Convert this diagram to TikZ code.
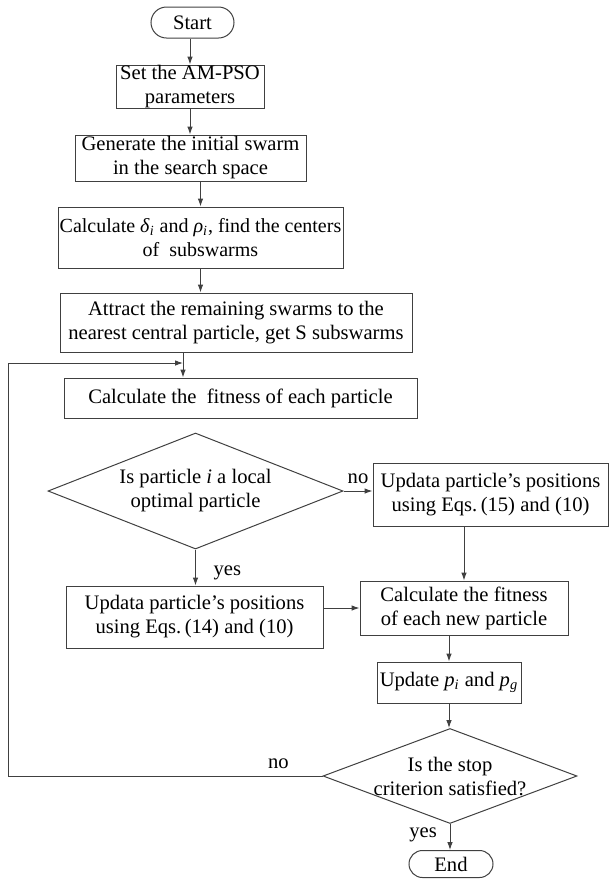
\documentclass[tikz,border=0pt]{standalone}
\usepackage{fontspec}
\setmainfont{Liberation Serif}
\usetikzlibrary{shapes.geometric,shapes.misc,arrows.meta}

\tikzset{
  line/.style={draw=black!75, line width=0.5pt},
  box/.style={line, rectangle, align=center, inner sep=0pt},
  term/.style={line, rounded rectangle, inner sep=0pt},
  decision/.style={line, diamond, align=center, inner sep=-2pt},
  arrow/.style={line, -{Latex[length=4pt,width=2.8pt]}}
}

\begin{document}
\begin{tikzpicture}[x=0.5pt, y=-0.5pt, font=\fontsize{10.3}{12}\selectfont]

    \useasboundingbox (0,0) rectangle (609,880);

    % Main column
    \node[term, minimum width=41.5pt, minimum height=15.5pt] (start) at (192.5,22.5) {Start};
    \node[box, minimum width=74pt, minimum height=21.5pt] (set) at (190,86.5) {Set the AM-PSO\\parameters};
    \node[box, minimum width=115.5pt, minimum height=23pt] (gen) at (190.5,158) {Generate the initial swarm\\in the search space};
    \node[box, minimum width=142.5pt, minimum height=30.5pt, font=\fontsize{10}{12}\selectfont] (calc) at (200.5,237.5)
        {Calculate \textit{δ}\textsubscript{\textit{i}} and \textit{ρ}\textsubscript{\textit{i}}, find the centers\\of~ subswarms};
    \node[box, minimum width=176pt, minimum height=29.5pt] (attract) at (236,322.5)
        {Attract the remaining swarms to the\\nearest central particle, get S subswarms};
    \node[box, minimum width=176.5pt, minimum height=20pt] (fit) at (240.5,398) {Calculate the~ fitness of each particle};

    % Decision on local optimum
    \node[decision, aspect=2.54, minimum width=147.5pt, minimum height=58pt] (dec1) at (195.5,491) {Is particle \textit{i} a local\\optimal particle};
    \node[box, minimum width=117.5pt, minimum height=31.5pt] (upd15) at (490.5,494.5) {Updata particle’s positions\\using Eqs.\,(15) and (10)};
    \node[box, minimum width=128.5pt, minimum height=31pt] (upd14) at (194.5,617) {Updata particle’s positions\\using Eqs.\,(14) and (10)};
    \node[box, minimum width=104pt, minimum height=27pt] (fitnew) at (464,608) {Calculate the fitness\\of each new particle};
    \node[box, minimum width=72pt, minimum height=20.5pt] (updp) at (449,682.5)
        {Update \textit{p}\textsubscript{\textit{i}} and \textit{p}\textsubscript{\textit{g}}};

    % Stop test
    \node[decision, aspect=2.67, minimum width=127pt, minimum height=47.5pt] (dec2) at (450,776) {Is the stop\\criterion satisfied?};
    \node[term, minimum width=42pt, minimum height=13.5pt] (end) at (451,864) {End};

    % Arrows
    \draw[arrow] (start.south -| set.north) -- (set.north);
    \draw[arrow] (set.south) -- (set.south |- gen.north);
    \draw[arrow] (gen.south -| calc.north) -- (calc.north);
    \draw[arrow] (calc.south) -- (calc.south |- attract.north);

    \coordinate (join) at (183,363);
    \coordinate (loopx) at (8,0);
    \draw[line] (attract.south -| join) -- (join);
    \draw[arrow] (join) -- (join |- fit.north);

    \draw[arrow] (dec1.south) -- (dec1.south |- upd14.north) node[pos=0.65, right=5.5pt] {yes};
    \draw[arrow] (dec1.east) -- (dec1.east -| upd15.west) node[midway, above] {no};
    \draw[arrow] (upd15.south -| fitnew.north) -- (fitnew.north);
    \draw[arrow] (upd14.east |- fitnew.west) -- (fitnew.west);
    \draw[arrow] (fitnew.south -| updp.north) -- (updp.north);
    \draw[arrow] (updp.south) -- (updp.south |- dec2.north);
    \draw[arrow] (dec2.south) -- (dec2.south |- end.north) node[pos=0.4, left=3pt] {yes};

    % Loop back
    \draw[arrow] (dec2.west) -- node[pos=0.14, above] {no} (dec2.west -| loopx) |- (join);

\end{tikzpicture}
\end{document}
